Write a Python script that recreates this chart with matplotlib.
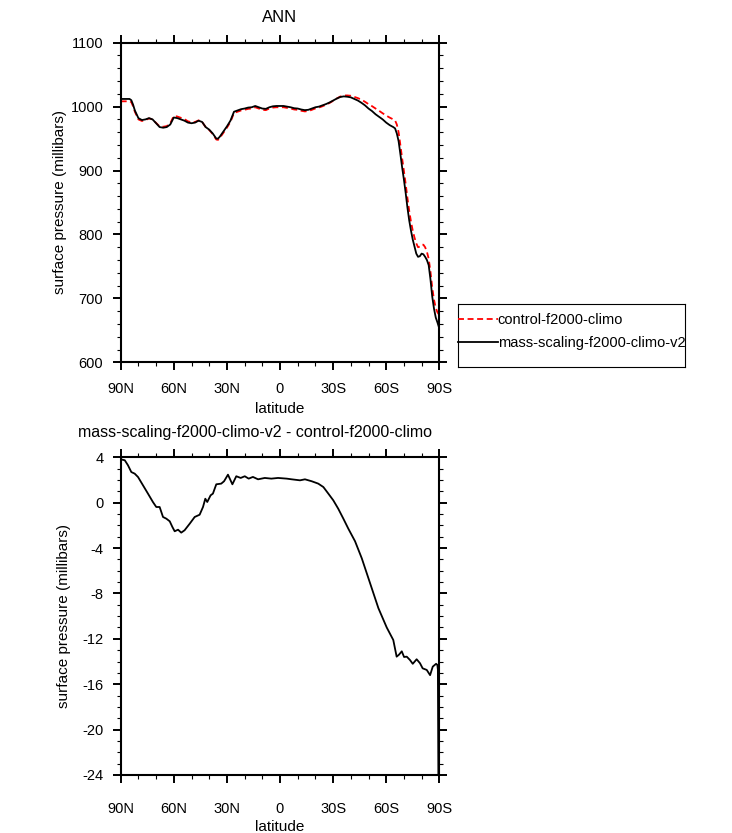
import numpy as np
import matplotlib
matplotlib.use("Agg")
import matplotlib.pyplot as plt
from matplotlib.ticker import MultipleLocator
from matplotlib.lines import Line2D

plt.rcParams['font.family'] = ['Liberation Sans', 'DejaVu Sans']
plt.rcParams['axes.unicode_minus'] = False

# latitudes for the two model runs (north to south)
lat = [90, 87, 85, 84, 83, 82,
       80, 78, 76, 74, 72, 70, 68, 66, 64, 62,
       60, 58, 56, 54, 52, 50, 48, 46, 44, 42,
       40, 38, 36, 35, 34, 32, 30, 28, 26, 24,
       22, 20, 18, 16, 14, 12, 10, 8, 6, 4,
       2, 0, -2, -4, -6, -8, -10, -12, -14, -16,
       -18, -20, -22, -24, -26, -28, -30, -32, -34, -36,
       -38, -40, -42, -44, -46, -48, -50, -52, -54, -56,
       -58, -60, -62, -64, -65, -66, -67, -68, -69, -70,
       -71, -72, -73, -74, -75, -76, -77, -78, -79, -80,
       -81, -82, -83, -84, -85, -86, -87, -88, -89, -90]

mass_scaling = [1012, 1012, 1012, 1010, 1003, 994,
                982, 979, 980, 982, 980, 974, 968, 967, 968, 972,
                983, 982, 980, 978, 975, 974, 975, 978, 976, 968,
                964, 958, 950, 950, 953, 961, 969, 978, 992, 994,
                996, 997, 998.5, 999, 1001, 999, 997, 996.5, 999, 1000.5,
                1001, 1001, 1001, 1000, 999, 997.5, 997, 995.5, 994.5, 995,
                997, 999, 1000, 1002, 1004, 1006.5, 1009.5, 1012.5, 1015, 1016,
                1015.5, 1014.5, 1012, 1009.5, 1006, 1002, 997, 993, 988, 984,
                980, 975, 971, 968, 966, 958, 946, 926, 905, 886,
                865, 842, 822, 806, 792, 781, 770, 765, 766, 770,
                769, 765, 760, 752, 730, 703, 684, 670, 662, 653]

control = [1008.3, 1008.3, 1008.5, 1007, 1000.5, 992,
           980, 977.5, 979, 981.5, 980, 974.5, 969, 968.5, 969.5, 974,
           985.5, 984.5, 982.5, 980.5, 977, 975.5, 976, 978.5, 976, 968,
           963.5, 957, 948.5, 948, 951, 959, 967, 976, 990, 992,
           994, 995, 996.5, 997, 999, 997, 995, 994.5, 997, 998.5,
           999, 999, 999, 998, 997, 995.5, 995, 993.5, 992.5, 993,
           995, 997.2, 998.5, 1000.6, 1003, 1005.7, 1009, 1012.6, 1015.7, 1017.4,
           1017.5, 1017, 1015.2, 1013.3, 1010.9, 1007.6, 1003.9, 1000.7, 997, 993.4,
           989.6, 986, 982.8, 980, 978.5, 972, 960, 940, 919, 899.5,
           879, 857, 837, 820, 806, 795, 786, 780, 781, 784,
           784, 780, 773, 762, 742, 717, 698, 685, 678, 674]

# difference plot (mass-scaling minus control)
diff_lat = [90, 87.7, 85.9, 84, 82.1, 80.2, 77.4, 74.6, 71.8, 69.9,
            68, 66.1, 64.2, 62.3, 60.8, 59.5, 57.6, 55.8, 53.9, 51,
            48.2, 45.4, 43.5, 42.2, 41.1, 39.2, 37.9, 36, 33.2, 31.6,
            29.4, 26.9, 24.7, 22.2, 19.9, 17.7, 15.3, 12.4, 8.6, 4.9,
            1.1, -3.8, -6.6, -11.3, -14.1, -17.9, -21.6, -24.5, -27.3, -30.1,
            -32.9, -35.8, -38.6, -42.4, -46.2, -50.9, -55.6, -60.3, -64, -65.9,
            -67.2, -68.8, -70.1, -71.6, -73.4, -75, -77.2, -79.1, -80.6, -82.9,
            -84.8, -86.3, -88.2, -88.9, -89.2, -89.5]
diff = [3.82, 3.74, 3.3, 2.7, 2.56, 2.26, 1.53, 0.8, 0.06, -0.38,
        -0.38, -1.26, -1.41, -1.64, -2.14, -2.52, -2.38, -2.64, -2.43, -1.85,
        -1.26, -1.06, -0.38, 0.35, 0.06, 0.65, 0.8, 1.62, 1.68, 1.89,
        2.47, 1.62, 2.33, 2.18, 2.33, 2.12, 2.27, 2.06, 2.18, 2.12,
        2.18, 2.12, 2.06, 1.97, 2.06, 1.89, 1.68, 1.38, 0.8, 0.21,
        -0.53, -1.41, -2.29, -3.4, -4.9, -7.1, -9.3, -11.0, -12.1, -13.57,
        -13.4, -13.1, -13.6, -13.57, -13.86, -14.2, -13.8, -14.15, -14.6, -14.74,
        -15.2, -14.45, -14.2, -14.3, -14.7, -24.5]

xticks = [90, 60, 30, 0, -30, -60, -90]
xticklabels = ['90N', '60N', '30N', '0', '30S', '60S', '90S']

W, H = 732, 833
fig = plt.figure(figsize=(W / 100, H / 100), dpi=100)

def style_axes(ax, xpad, xlabelpad, ylabelpad):
    ax.set_xlim(90, -90)
    ax.set_xticks(xticks)
    ax.set_xticklabels(xticklabels)
    ax.xaxis.set_minor_locator(MultipleLocator(10))
    for s in ax.spines.values():
        s.set_linewidth(1.5)
    ax.tick_params(which='both', direction='out', top=True, right=True,
                   labelsize=10.5, colors='black')
    ax.tick_params(which='major', length=6, width=1.4)
    ax.tick_params(which='minor', length=3, width=0.8)
    ax.tick_params(axis='x', which='major', pad=xpad)
    ax.tick_params(axis='y', which='major', pad=6.5)
    ax.set_xlabel('latitude', fontsize=11, labelpad=xlabelpad)
    ax.set_ylabel('surface pressure (millibars)', fontsize=11, labelpad=ylabelpad)

# top panel
ax1 = fig.add_axes([120.7 / W, 1 - 362.3 / H, 318.6 / W, 319.6 / H])
ax1.plot(lat, control, color='red', lw=1.3, dashes=(3.3, 2.0))
ax1.plot(lat, mass_scaling, color='black', lw=1.3)
ax1.set_ylim(600, 1100)
ax1.yaxis.set_major_locator(MultipleLocator(100))
ax1.yaxis.set_minor_locator(MultipleLocator(20))
style_axes(ax1, xpad=8, xlabelpad=4.5, ylabelpad=2.5)
fig.text(280 / W, 1 - 18 / H, 'ANN', ha='center', va='center', fontsize=12)

# legend in its own framed box
leg_ax = fig.add_axes([458.3 / W, 1 - 366.7 / H, 226.7 / W, 62.7 / H])
leg_ax.set_xticks([])
leg_ax.set_yticks([])
for s in leg_ax.spines.values():
    s.set_linewidth(0.8)
handles = [Line2D([], [], color='red', lw=1.3, dashes=(3.3, 2.0)),
           Line2D([], [], color='black', lw=1.3)]
leg_ax.legend(handles, ['control-f2000-climo', 'mass-scaling-f2000-climo-v2'],
              loc='center left', bbox_to_anchor=(0, 0.56), frameon=False,
              fontsize=10.5, borderaxespad=0, borderpad=0, handlelength=2.7,
              handletextpad=0, labelspacing=0.58)

# bottom panel
ax2 = fig.add_axes([120.7 / W, 1 - 775 / H, 318.6 / W, 317.7 / H])
ax2.plot(diff_lat, diff, color='black', lw=1.3)
ax2.set_ylim(-24, 4)
ax2.yaxis.set_major_locator(MultipleLocator(4))
ax2.yaxis.set_minor_locator(MultipleLocator(1))
style_axes(ax2, xpad=13.5, xlabelpad=2.5, ylabelpad=8)
fig.text(78 / W, 1 - 432 / H, 'mass-scaling-f2000-climo-v2 - control-f2000-climo',
         ha='left', va='center', fontsize=11.5)

fig.savefig('out.png', dpi=100)
